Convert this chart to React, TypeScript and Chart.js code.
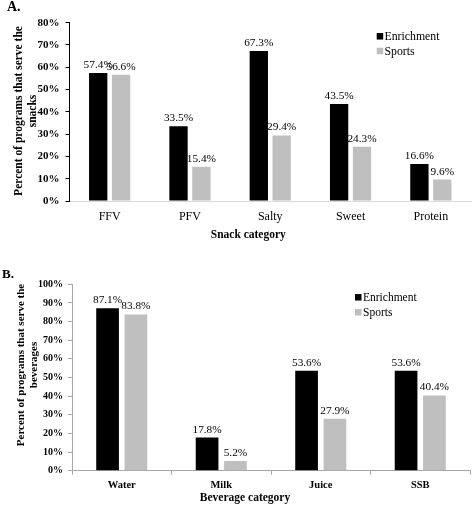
import React, { useEffect, useRef } from "react";
import { Chart, registerables } from "chart.js";

Chart.register(...registerables);

const FONT = "'Liberation Serif', 'Times New Roman', serif";

// ---- Data ----
const seriesNames = ["Enrichment", "Sports"];
const seriesColors = ["#000000", "#bfbfbf"];

const snackCategories = ["FFV", "PFV", "Salty", "Sweet", "Protein"];
const snackEnrichment = [57.4, 33.5, 67.3, 43.5, 16.6];
const snackSports = [56.6, 15.4, 29.4, 24.3, 9.6];
const snackYMax = 80;
const snackYStep = 10;

const beverageCategories = ["Water", "Milk", "Juice", "SSB"];
const beverageEnrichment = [87.1, 17.8, 53.6, 53.6];
const beverageSports = [83.8, 5.2, 27.9, 40.4];
const beverageYMax = 100;
const beverageYStep = 10;

const snackYTitle = ["Percent of programs that serve the", "snacks"];
const snackXTitle = "Snack category";
const beverageYTitle = ["Percent of programs that serve the", "beverages"];
const beverageXTitle = "Beverage category";

const decorPlugin = {
  id: "decor",
  afterDatasetsDraw(chart: any, _args: any, o: any) {
    const ctx = chart.ctx;
    ctx.save();
    // data labels
    ctx.fillStyle = "#000";
    ctx.font = `${o.labelSize}px ${FONT}`;
    ctx.textAlign = "center";
    ctx.textBaseline = "alphabetic";
    chart.data.datasets.forEach((ds: any, di: number) => {
      const meta = chart.getDatasetMeta(di);
      meta.data.forEach((el: any, i: number) => {
        const v = ds.data[i];
        ctx.fillText(v.toFixed(1) + "%", el.x, el.y - o.labelGap);
      });
    });
    // legend
    ctx.textAlign = "left";
    ctx.textBaseline = "middle";
    ctx.font = `${o.legend.size}px ${FONT}`;
    chart.data.datasets.forEach((ds: any, di: number) => {
      const cy = o.legend.rows[di];
      const s = o.legend.box;
      ctx.fillStyle = ds.backgroundColor;
      ctx.fillRect(o.legend.x, cy - s / 2, s, s);
      ctx.fillStyle = "#000";
      ctx.fillText(ds.label, o.legend.textX, cy + 0.5);
    });
    // y axis title
    ctx.font = `bold ${o.yTitle.size}px ${FONT}`;
    ctx.textAlign = "center";
    ctx.textBaseline = "middle";
    o.yTitle.lines.forEach((line: string, i: number) => {
      ctx.save();
      ctx.translate(o.yTitle.x[i], o.yTitle.y);
      ctx.rotate(-Math.PI / 2);
      ctx.fillText(line, 0, 0);
      ctx.restore();
    });
    // x axis title
    ctx.font = `bold ${o.xTitle.size}px ${FONT}`;
    ctx.fillText(o.xTitle.text, o.xTitle.x, o.xTitle.y);
    // panel label
    ctx.font = `bold ${o.panel.size}px ${FONT}`;
    ctx.textAlign = "left";
    ctx.textBaseline = "alphabetic";
    ctx.fillText(o.panel.text, o.panel.x, o.panel.y);
    ctx.restore();
  },
};

function makeConfig(p: any) {
  return {
    type: "bar",
    data: {
      labels: p.labels,
      datasets: [
        {
          label: seriesNames[0],
          data: p.a,
          backgroundColor: seriesColors[0],
          categoryPercentage: 0.57,
          barPercentage: 0.8,
        },
        {
          label: seriesNames[1],
          data: p.b,
          backgroundColor: seriesColors[1],
          categoryPercentage: 0.57,
          barPercentage: 0.8,
        },
      ],
    },
    options: {
      animation: false,
      responsive: false,
      events: [],
      layout: { padding: { top: p.top, right: p.right, left: 0, bottom: 0 } },
      scales: {
        x: {
          afterFit: (s: any) => {
            s.height = p.xHeight;
          },
          grid: {
            display: p.xTicksMarks,
            drawOnChartArea: false,
            drawTicks: true,
            tickLength: 4,
            color: p.xColor,
          },
          border: { display: true, color: p.xColor, width: 1 },
          ticks: {
            color: "#000",
            padding: p.xPad,
            font: { family: FONT, size: p.xSize, weight: p.xWeight },
          },
        },
        y: {
          min: 0,
          max: p.yMax,
          afterFit: (s: any) => {
            s.width = p.yWidth;
          },
          grid: {
            display: true,
            drawOnChartArea: false,
            drawTicks: true,
            tickLength: 4,
            color: p.yColor,
          },
          border: { display: true, color: p.yColor, width: 1 },
          ticks: {
            stepSize: p.yStep,
            color: "#000",
            padding: p.yPad,
            font: { family: FONT, size: p.ySize, weight: "bold" },
            callback: (v: any) => v + "%",
          },
        },
      },
      plugins: {
        legend: { display: false },
        tooltip: { enabled: false },
        decor: p.decor,
      },
    },
    plugins: [decorPlugin],
  };
}

function BarPanel({ cfg, width, height }: any) {
  const ref = useRef<HTMLCanvasElement | null>(null);
  useEffect(() => {
    if (!ref.current) return;
    const chart = new Chart(ref.current, makeConfig(cfg) as any);
    return () => chart.destroy();
  }, []);
  return <canvas ref={ref} width={width} height={height} style={{ display: "block" }} />;
}

export default function App() {
  const cfgA = {
    labels: snackCategories,
    a: snackEnrichment,
    b: snackSports,
    yMax: snackYMax,
    yStep: snackYStep,
    top: 22.7,
    right: 2,
    xHeight: 44,
    yWidth: 69.5,
    xColor: "#d9d9d9",
    yColor: "#000000",
    xTicksMarks: false,
    xPad: 5,
    xSize: 12,
    xWeight: "normal",
    yPad: 6,
    ySize: 11,
    decor: {
      labelSize: 11.3,
      labelGap: 5,
      legend: { x: 376.7, textX: 384.5, rows: [36.3, 51], box: 6.5, size: 11.8 },
      yTitle: { lines: snackYTitle, x: [19.5, 33.5], y: 111, size: 11.5 },
      xTitle: { text: snackXTitle, x: 248.3, y: 235, size: 11.5 },
      panel: { text: "A.", x: 7, y: 11, size: 14 },
    },
  };
  const cfgB = {
    labels: beverageCategories,
    a: beverageEnrichment,
    b: beverageSports,
    yMax: beverageYMax,
    yStep: beverageYStep,
    top: 34.3,
    right: 3,
    xHeight: 34.3,
    yWidth: 72,
    xColor: "#a6a6a6",
    yColor: "#a6a6a6",
    xTicksMarks: true,
    xPad: 4,
    xSize: 10.5,
    xWeight: "bold",
    yPad: 5,
    ySize: 10,
    decor: {
      labelSize: 11.3,
      labelGap: 5,
      legend: { x: 355, textX: 363, rows: [47.3, 62.3], box: 6.5, size: 11.5 },
      yTitle: { lines: beverageYTitle, x: [21, 34], y: 115, size: 11 },
      xTitle: { text: beverageXTitle, x: 245, y: 248.3, size: 11.5 },
      panel: { text: "B.", x: 2, y: 28, size: 13 },
    },
  };
  return (
    <div style={{ position: "absolute", left: 0, top: 0, width: 473, height: 505, background: "#fff" }}>
      <BarPanel cfg={cfgA} width={473} height={245} />
      <div style={{ height: 5 }} />
      <BarPanel cfg={cfgB} width={473} height={255} />
    </div>
  );
}
